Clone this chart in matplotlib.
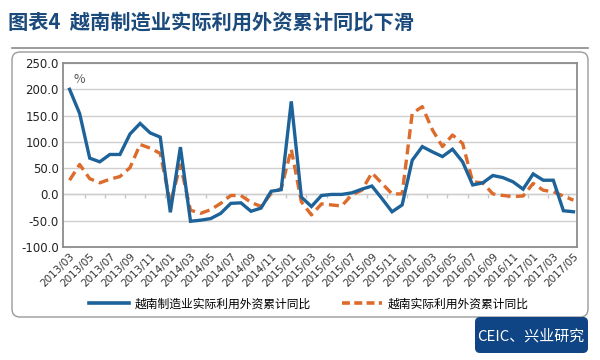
import matplotlib
matplotlib.use("Agg")
import matplotlib.pyplot as plt
import numpy as np
from matplotlib.patches import FancyBboxPatch
from matplotlib.lines import Line2D

plt.rcParams['font.family'] = ['Noto Sans CJK SC', 'DejaVu Sans']

# monthly, 2013/03 .. 2017/05
months = []
for y in range(2013, 2018):
    for m in range(1, 13):
        if (y == 2013 and m < 3) or (y == 2017 and m > 5):
            continue
        months.append('%d/%02d' % (y, m))

mfg_fdi = [200, 154, 69, 62, 76, 76, 115, 135, 117, 109,
           -34, 90, -51, -49, -46, -36, -17, -16, -32, -26,
           6, 9, 177, -5, -23, -2, 0, 0, 3, 10,
           16, -8, -33, -20, 65, 91, 81, 72, 86, 62,
           18, 22, 36, 32, 24, 10, 39, 27, 27, -31,
           -33]
all_fdi = [27, 57, 30, 22, 29, 34, 51, 95, 88, 78,
           -17, 56, -30, -36, -29, -17, -2, -2, -15, -23,
           2, 11, 86, -14, -39, -18, -20, -22, -1, 8,
           41, 21, 1, 1, 154, 167, 123, 91, 113, 97,
           24, 22, 1, -2, -4, -3, 21, 8, 5, -3,
           -11]
labels = ['越南制造业实际利用外资累计同比', '越南实际利用外资累计同比']

blue = '#1d6399'
orange = '#dc6b2c'
navy = '#1b4a7c'

fig = plt.figure(figsize=(6, 3.6), dpi=100)

# title and rule
fig.text(0.013, 0.94, '图表4  越南制造业实际利用外资累计同比下滑', fontsize=14.6,
         fontweight='bold', color=navy, va='center', ha='left')
fig.add_artist(Line2D([0.02, 0.98], [1 - 48 / 360, 1 - 48 / 360], color='#8a8a8a', lw=1.2))

# chart frame (behind the axes)
frame = FancyBboxPatch((0.12, 0.43), 5.76, 2.65, boxstyle='round,pad=0,rounding_size=0.08',
                       transform=fig.dpi_scale_trans, fc='white', ec='#9a9a9a', lw=1.0,
                       zorder=-5)
fig.add_artist(frame)

ax = fig.add_axes([63 / 600, 1 - 247 / 360, 514 / 600, 184 / 360])
ax.patch.set_alpha(0)
x = np.arange(len(months))
ax.plot(x, mfg_fdi, color=blue, lw=2.4, solid_joinstyle='miter', zorder=3)
ax.plot(x, all_fdi, color=orange, lw=2.4, dashes=(3, 1.6), zorder=2)

ax.set_ylim(-100, 250)
ax.set_yticks(np.arange(-100, 251, 50))
ax.set_yticklabels(['%.1f' % v for v in np.arange(-100, 251, 50)], fontsize=8.5,
                   family=['DejaVu Sans'])
ax.set_xlim(-0.65, len(months) - 0.65)
ax.set_xticks(x[::2])
ax.set_xticklabels(months[::2], rotation=45, ha='right', rotation_mode='anchor',
                   fontsize=7.5, family=['DejaVu Sans'], color='#333333')
ax.tick_params(axis='both', length=0, pad=3)
ax.tick_params(axis='y', colors='#222222')
ax.grid(axis='y', color='#cfcfcf', lw=1.0)
ax.set_axisbelow(True)
for s in ax.spines.values():
    s.set_color('#8c8c8c')
    s.set_linewidth(1.3)
ax.axhline(0, color='#cfcfcf', lw=1.0, zorder=1)
ax.vlines(np.arange(1.5, len(months), 2), -6, 0, color='#c8c8c8', lw=1.0, zorder=1)

ax.text(0.02, 0.89, '%', transform=ax.transAxes, fontsize=9, color='#555555')

handles = [Line2D([], [], color=blue, lw=2.6),
           Line2D([], [], color=orange, lw=2.6, dashes=(2.2, 1.2))]
fig.legend(handles, labels, loc='center', bbox_to_anchor=(0.515, 1 - 304 / 360), ncol=2,
           frameon=False, fontsize=8.5, handlelength=3.4, columnspacing=2.6,
           handletextpad=0.5)

# source tag
src = FancyBboxPatch((4.75, 0.07), 1.13, 0.36, boxstyle='round,pad=0,rounding_size=0.05',
                     transform=fig.dpi_scale_trans, fc='#0f4585', ec='none')
fig.add_artist(src)
fig.text(531 / 600, 1 - 336 / 360, 'CEIC、兴业研究', color='white', fontsize=10.8,
         ha='center', va='center')

fig.savefig('out.png', dpi=100)
